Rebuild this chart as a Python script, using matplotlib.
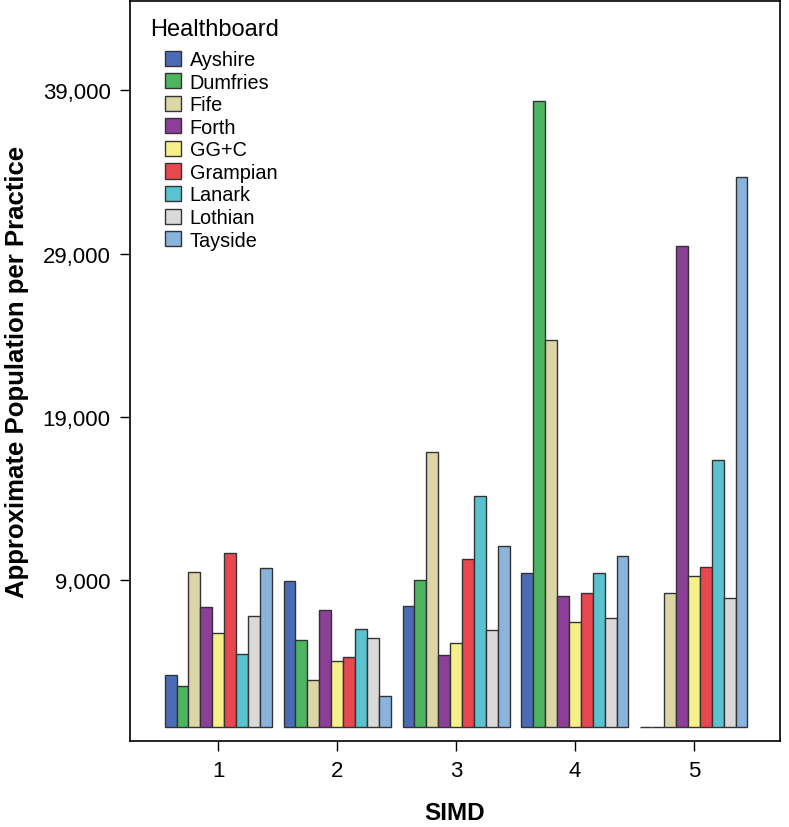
import matplotlib
matplotlib.use("Agg")
import matplotlib.pyplot as plt
import numpy as np
from matplotlib.ticker import FuncFormatter

plt.rcParams["font.family"] = ["Liberation Sans", "DejaVu Sans"]

simd = [1, 2, 3, 4, 5]
boards = ["Ayshire", "Dumfries", "Fife", "Forth", "GG+C",
          "Grampian", "Lanark", "Lothian", "Tayside"]
colors = ["#4a6bb5", "#4db560", "#dbd5a8", "#8b3f96", "#f7f08a",
          "#e9474f", "#5ac3cf", "#d9d9d9", "#8ab4db"]

# approximate population per practice, one list per healthboard (SIMD 1..5)
ayshire = [3200, 8960, 7400, 9440, 0]
dumfries = [2500, 5320, 9020, 38340, 0]
fife = [9490, 2880, 16830, 23720, 8210]
forth = [7340, 7180, 4400, 7990, 29470]
ggc = [5770, 4010, 5110, 6450, 9270]
grampian = [10670, 4290, 10310, 8230, 9770]
lanark = [4440, 6010, 14150, 9440, 16370]
lothian = [6770, 5420, 5910, 6680, 7890]
tayside = [9730, 1900, 11060, 10470, 33670]

series = [ayshire, dumfries, fife, forth, ggc, grampian, lanark, lothian, tayside]

fig = plt.figure(figsize=(7.89, 8.28), dpi=100)
ax = fig.add_axes([0.165, 0.104, 0.823, 0.894])

x = np.array(simd)
w = 0.1
for i, (name, vals) in enumerate(zip(boards, series)):
    off = (i - 4) * w
    ax.bar(x + off, vals, width=w, color=colors[i], edgecolor="#333333",
           linewidth=1.0, label=name)

ax.set_xlim(0.26, 5.72)
ax.set_ylim(-860, 44500)
ax.set_xticks(simd)
ax.set_yticks([9000, 19000, 29000, 39000])
ax.yaxis.set_major_formatter(FuncFormatter(lambda v, p: f"{int(v):,}"))
ax.tick_params(labelsize=16, length=7, width=1, direction="out", pad=7)

for s in ax.spines.values():
    s.set_linewidth(1.2)

ax.set_xlabel("SIMD", fontsize=17.5, fontweight="bold", labelpad=14)
ax.set_ylabel("Approximate Population per Practice", fontsize=18.5,
              fontweight="bold", labelpad=10)

# legend title drawn on its own so the swatches can sit indented under it
fig.text(150 / 789, 1 - 30 / 828, "Healthboard", fontsize=17, va="center",
         ha="left")
ax.legend(loc="upper left", frameon=False, fontsize=14.3,
          bbox_to_anchor=(165 / 789, 1 - 51 / 828),
          bbox_transform=fig.transFigure, borderpad=0, borderaxespad=0,
          handlelength=0.8, handleheight=0.8, handletextpad=0.45,
          labelspacing=0.18)

fig.savefig("out.png", dpi=100)
